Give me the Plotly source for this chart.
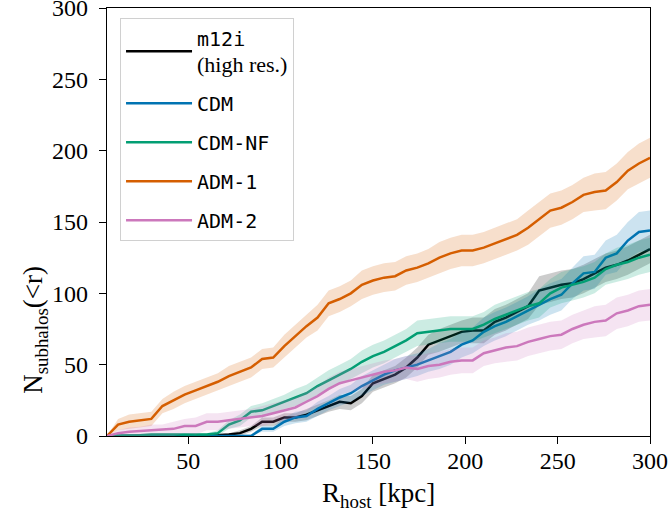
import plotly.graph_objects as go

# ---------------- data ----------------
R_KPC = list(range(6, 301, 6))  # 50 radial bins

M12I = [0, 0, 0, 0, 0, 0, 0, 0, 0, 0,
        0.5, 1, 2, 5, 10, 10, 13, 13, 15, 18,
        21, 24, 23, 28, 37, 40, 43, 48, 55, 64,
        67, 70, 73, 74, 74, 80, 83, 87, 91, 102,
        104, 106, 107, 110, 114, 118, 120, 123, 127, 131]
M12I_ERR = [0, 0, 0, 0, 0, 0, 0, 0, 0, 0,
            1, 1, 2, 2, 3, 3, 3, 3, 4, 4,
            4, 5, 5, 5, 6, 6, 6, 7, 7, 7,
            8, 8, 8, 9, 9, 9, 9, 9, 9, 10,
            10, 10, 10, 10, 10, 10, 10, 10, 10, 10]

CDM = [0, 0, 0, 0, 0, 0, 0, 0, 0, 0,
       0, 0, 0, 0, 5, 5, 10, 13, 14, 19,
       23, 27, 30, 35, 39, 43, 46, 48, 50, 53,
       56, 59, 64, 67, 73, 77, 80, 84, 88, 92,
       96, 99, 107, 114, 115, 125, 128, 137, 143, 144]
CDM_ERR = [0, 0, 0, 0, 0, 0, 0, 0, 0, 0,
           0, 0, 1, 1, 2, 2, 3, 4, 4, 5,
           5, 6, 6, 7, 7, 7, 8, 8, 8, 8,
           9, 9, 9, 9, 10, 10, 10, 10, 10, 11,
           11, 11, 11, 12, 12, 12, 13, 13, 14, 14]

CDM_NF = [0, 0, 0, 0.5, 1, 1, 1, 1, 1, 1,
          2, 8, 11, 17, 18, 21, 24, 27, 30, 35,
          39, 43, 47, 52, 56, 59, 63, 67, 72, 73,
          74, 75, 75, 75, 78, 82, 85, 88, 91, 93,
          100, 104, 106, 108, 111, 117, 120, 122, 125, 127]
CDM_NF_ERR = [0, 0, 0, 1, 1, 1, 1, 1, 1, 1,
              2, 3, 4, 4, 5, 5, 5, 6, 6, 6,
              7, 7, 7, 8, 8, 8, 8, 8, 9, 9,
              9, 9, 9, 9, 9, 10, 10, 10, 10, 10,
              10, 11, 11, 11, 11, 11, 12, 12, 12, 12]

ADM1 = [0, 8, 10, 11, 12, 21, 25, 29, 32, 35,
        38, 42, 45, 48, 54, 55, 63, 70, 77, 83,
        93, 96, 100, 106, 109, 111, 112, 116, 118, 121,
        125, 128, 130, 130, 132, 135, 138, 141, 146, 152,
        158, 160, 164, 169, 171, 172, 178, 186, 191, 195]
ADM1_ERR = [0, 4, 5, 5, 5, 5, 6, 6, 6, 6,
            6, 7, 7, 7, 7, 7, 8, 8, 8, 9,
            9, 9, 9, 10, 10, 10, 10, 10, 10, 10,
            11, 11, 11, 11, 11, 11, 11, 11, 12, 12,
            12, 12, 12, 12, 13, 13, 13, 13, 14, 14]

ADM2 = [0, 2, 3, 3.5, 4, 4, 5, 7, 7, 10,
        10, 11, 12, 13, 14, 16, 18, 20, 24, 28,
        33, 37, 39, 41, 43, 45, 46, 48, 47, 49,
        50, 52, 53, 53, 58, 60, 62, 63, 66, 68,
        70, 71, 75, 78, 80, 81, 86, 88, 91, 92]
ADM2_ERR = [0, 2, 3, 3, 4, 4, 5, 5, 6, 6,
            6, 6, 6, 6, 7, 7, 7, 7, 7, 7,
            8, 8, 8, 8, 8, 8, 8, 8, 9, 9,
            9, 9, 9, 9, 9, 9, 10, 10, 10, 10,
            10, 10, 10, 10, 11, 11, 11, 11, 11, 11]

X_TICKS = [50, 100, 150, 200, 250, 300]
Y_TICKS = [0, 50, 100, 150, 200, 250, 300]

SERIF = "Liberation Serif"
MONO = "DejaVu Sans Mono"

SERIES = [
    (f"m12i<br><span style='font-family:{SERIF};font-size:22px'>(high res.)</span>", M12I, M12I_ERR, (0, 0, 0)),
    ("CDM", CDM, CDM_ERR, (1, 115, 178)),
    ("CDM-NF", CDM_NF, CDM_NF_ERR, (2, 158, 115)),
    ("ADM-1", ADM1, ADM1_ERR, (213, 94, 0)),
    ("ADM-2", ADM2, ADM2_ERR, (204, 120, 188)),
]

fig = go.Figure()
for i, (name, vals, errs, rgb) in enumerate(SERIES):
    upper = [v + e for v, e in zip(vals, errs)]
    lower = [max(v - e, 0) for v, e in zip(vals, errs)]
    r, g, b = rgb
    fig.add_trace(go.Scatter(
        x=R_KPC + R_KPC[::-1], y=upper + lower[::-1],
        fill="toself", fillcolor=f"rgba({r},{g},{b},0.2)",
        line=dict(width=0), mode="lines", hoverinfo="skip",
        showlegend=False, legendgroup=f"g{i}"))
    fig.add_trace(go.Scatter(
        x=R_KPC, y=vals, mode="lines", name=name,
        line=dict(color=f"rgb({r},{g},{b})", width=2.5),
        legendgroup=f"g{i}"))

axis_common = dict(
    showline=True, linecolor="black", linewidth=1.3, mirror=True,
    ticks="outside", ticklen=7, tickwidth=1.3, tickcolor="black",
    showgrid=False, zeroline=False, automargin=False,
    ticklabeloverflow="allow",
    tickfont=dict(family=SERIF, size=24, color="black"),
)
fig.update_xaxes(range=[6, 300], tickvals=X_TICKS, ticklabelstandoff=-4, **axis_common)
fig.update_yaxes(range=[0, 300], tickvals=Y_TICKS, ticklabelstandoff=6, **axis_common)

fig.add_annotation(
    text="N<sub>subhalos</sub>(&lt;r)", textangle=-90,
    xref="paper", yref="paper", x=-0.1326, y=0.248,
    xanchor="center", yanchor="middle", showarrow=False,
    font=dict(family=SERIF, size=27, color="black"))
fig.add_annotation(
    text="R<sub>host</sub> [kpc]",
    xref="paper", yref="paper", x=0.5, y=-0.138,
    xanchor="center", yanchor="middle", showarrow=False,
    font=dict(family=SERIF, size=27, color="black"))

fig.update_layout(
    width=670, height=520,
    margin=dict(l=107, r=20, t=8, b=84, autoexpand=False),
    plot_bgcolor="white", paper_bgcolor="white",
    showlegend=True,
    legend=dict(
        x=0.024, y=0.977, xanchor="left", yanchor="top",
        bgcolor="rgba(255,255,255,0.85)", bordercolor="#d0d0d0", borderwidth=1,
        font=dict(family=MONO, size=20, color="black"),
        tracegroupgap=10, traceorder="grouped", itemwidth=66,
    ),
)

fig.write_html("out.html")
